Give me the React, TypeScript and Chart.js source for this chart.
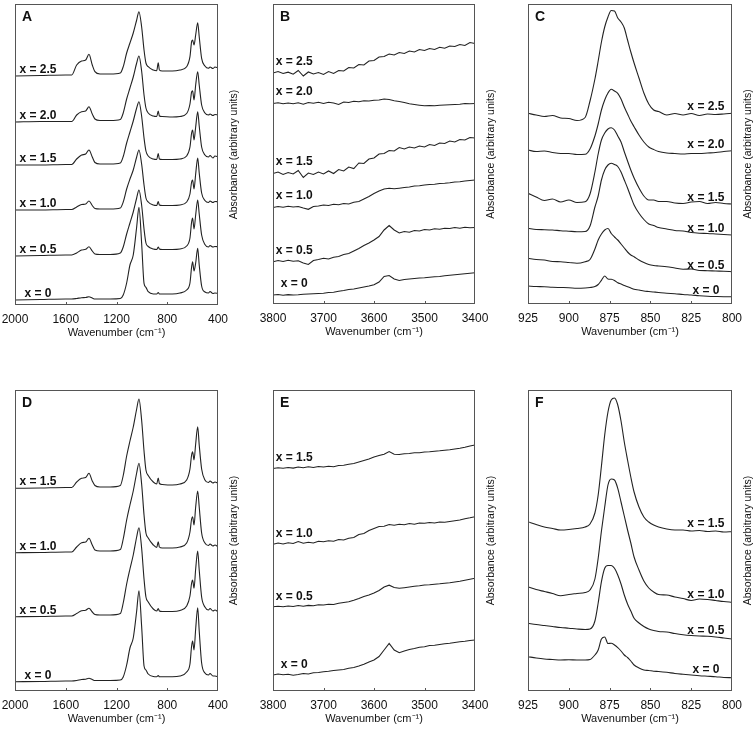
import React, { useEffect, useRef } from "react";
import { Chart, registerables } from "chart.js";

Chart.register(...registerables);

// ---------- Panel A / D (mid-IR, 2000-400 cm-1) ----------
const A_WN = [2000, 1800, 1600, 1553, 1514, 1475, 1443, 1417, 1391, 1370, 1330, 1250, 1170, 1147, 1120, 1094, 1068, 1041, 1023, 1002, 983, 968, 950, 910, 883, 871, 862, 840, 760, 700, 647, 621, 608, 600, 589, 576, 560, 548, 529, 503, 475, 463, 440, 424, 400];
const A_TICKS = [2000, 1600, 1200, 800, 400];
const A_LABELS = ["x = 0", "x = 0.5", "x = 1.0", "x = 1.5", "x = 2.0", "x = 2.5"];
const A_X0 = [5, 5.5, 6, 6, 6.5, 7.3, 7.5, 8.3, 7, 6, 6, 6, 6.5, 10, 22, 40, 50, 78, 97.7, 62, 21.7, 17.7, 13.3, 11, 11, 12.5, 11, 11, 11, 12, 15, 22, 38, 43.3, 34, 42, 56.7, 40, 19, 13, 12, 13.5, 11.5, 12, 11.7];
const A_X05 = [49, 49.5, 50, 50, 52, 55, 55.7, 58.3, 54, 51, 50.5, 50.5, 52, 58, 71, 82, 93, 107, 115, 100, 76, 62, 58.5, 56, 55.5, 58, 56, 55.5, 55.5, 56, 59, 67, 83, 87, 76, 90, 105, 91, 70, 60.5, 58, 59.5, 58, 58.5, 58.3];
const A_X10 = [95, 95, 95.5, 95.5, 98, 100.5, 101, 104, 99.5, 96.5, 96, 96, 97, 103, 116, 126, 135, 148, 155, 141, 120, 107, 103, 100, 99.5, 103.5, 100, 99.5, 99.5, 100, 103, 111, 123, 125, 116, 131, 147, 132, 112, 104.5, 102.5, 104, 102.5, 103.5, 103.3];
const A_X15 = [140, 140, 140.5, 140.5, 146, 150, 151, 155, 148, 142.5, 141, 141, 142, 148.5, 162, 173, 184, 197, 203.3, 189, 167, 154, 149, 146, 145.5, 151.5, 146, 145.5, 145.5, 146, 149, 158, 172, 175, 165, 178, 193.3, 179, 158, 150, 148, 149.5, 147, 149, 148.3];
const A_X20 = [183, 183.5, 183.5, 183.5, 190, 193.3, 194, 198.3, 191, 186, 184.5, 184.5, 185.5, 192, 206, 217, 228, 242, 249, 234, 210, 197, 192, 189, 188.5, 194, 189, 188.5, 188, 188.5, 191.5, 201, 213, 214.3, 205, 220, 233.3, 220, 200, 192, 190, 191, 189.5, 190.5, 190];
const A_X25 = [229, 229.5, 230, 230, 240, 244, 245, 250.7, 240, 233.3, 231, 231, 232, 238.3, 252, 262, 272, 285, 293.3, 278.3, 255, 242, 238.3, 235, 234.3, 242.3, 235, 234, 234, 235, 238.3, 248.3, 263.3, 265, 260, 270, 282.3, 268.3, 246.7, 239, 236.7, 238, 236.5, 238, 237];

const D_LABELS = ["x = 0", "x = 0.5", "x = 1.0", "x = 1.5"];
const D_X0 = [9.3, 9.5, 10, 10, 10.5, 11.5, 11.8, 12.7, 11.5, 10.5, 10.5, 10.5, 11, 14, 26, 43, 53, 80, 100.3, 65, 25, 21, 17, 14.5, 14.3, 15.5, 14.3, 14.3, 14.3, 15, 19, 27, 45, 50, 41, 62, 83.3, 60, 28, 18, 16, 17.5, 15, 15, 14.3];
const D_X05 = [74.3, 74.5, 75, 75, 77.5, 80.3, 80.8, 82.7, 79, 76.5, 76, 76, 77.5, 88, 107, 122, 136, 154, 163.3, 143, 112, 94, 89, 82, 80, 82.5, 80, 79.5, 79.5, 80.5, 85, 95, 108, 111, 102.7, 122, 140, 121, 94, 84, 81, 82.5, 80, 81, 79.3];
const D_X10 = [138.3, 138.5, 139, 139, 144, 148.3, 149, 152.7, 146, 141, 140, 140, 141.5, 152, 171, 186, 200, 218, 227.7, 207, 176, 158, 153, 146, 143.5, 149.3, 144, 143, 143, 144, 148, 159, 172, 174.3, 166, 184, 200, 184, 158, 148, 145.5, 147, 145, 146, 144.3];
const D_X15 = [202.7, 203, 203.5, 203.5, 209, 212.7, 213.5, 217.7, 210, 205.5, 204, 204, 205.5, 215.5, 235, 250, 264, 282, 292, 271, 240, 221, 215.5, 209, 207, 213, 207.5, 206.5, 206, 207, 211, 222, 236, 239.3, 231, 247, 264.3, 246, 222, 211, 208.5, 210, 208, 209, 207.7];

// ---------- Panel B / E (OH region, 3800-3400 cm-1) ----------
const B_WN = [3800, 3790, 3780, 3770, 3760, 3750, 3740, 3730, 3720, 3710, 3700, 3690, 3680, 3670, 3660, 3650, 3640, 3630, 3620, 3610, 3600, 3590, 3580, 3570, 3560, 3550, 3540, 3530, 3520, 3510, 3500, 3490, 3480, 3470, 3460, 3450, 3440, 3430, 3420, 3410, 3400];
const B_TICKS = [3800, 3700, 3600, 3500, 3400];
const B_LABELS = ["x = 0", "x = 0.5", "x = 1.0", "x = 1.5", "x = 2.0", "x = 2.5"];
const B_X0 = [9, 9.5, 8.8, 9.4, 9, 9.2, 9.8, 10, 10.3, 10.5, 10.8, 11.5, 11.8, 12.8, 13.5, 14.5, 15, 16, 17, 18, 19.2, 22, 27.5, 28.5, 25, 23.5, 24.5, 25, 25.5, 26, 26.3, 26.8, 27.2, 27.5, 28.2, 28.8, 29.3, 29.8, 30.3, 30.8, 31.3];
const B_X05 = [42.3, 43.5, 42.5, 43.8, 42.8, 43.3, 41, 39.5, 43.5, 44.5, 45.7, 45, 46.8, 47.5, 49.5, 50.5, 53, 55.5, 58.5, 61, 64, 67.5, 74, 78.5, 74, 71, 72.5, 71.8, 73.5, 73, 74.5, 74, 75.2, 74.8, 75.8, 75.5, 76.5, 75.8, 76.8, 76.2, 76.5];
const B_X10 = [96.5, 97.5, 96.8, 97.8, 97, 97.5, 96, 94.7, 97.5, 98, 99, 98.5, 99.8, 99.2, 100.5, 100, 101.8, 102.5, 105, 107.5, 110.5, 113, 115, 115.8, 115.2, 115.8, 116.5, 117, 118, 118.2, 119, 119.5, 119.8, 120.5, 120.8, 121.3, 122, 122.3, 123, 123.5, 124];
const B_X15 = [130.5, 132, 129.5, 131.5, 130, 133.5, 126.5, 131, 129.5, 132, 130, 133, 130.5, 134.5, 133, 137, 135.5, 141, 140.5, 145, 146, 150, 150.5, 153.5, 153, 156.5, 155, 157, 156, 158, 157, 159.5, 158.5, 161, 160.5, 163, 162, 164.5, 164, 166.5, 166];
const B_X20 = [200.5, 201.2, 200.3, 201, 200.2, 201.3, 199.8, 201.5, 200.8, 201.8, 200.5, 201.8, 201, 199.5, 202, 201.5, 202.8, 202.2, 203.2, 203, 203.8, 204, 205, 204.5, 203.2, 202.5, 201.5, 200.3, 199.5, 198.8, 198.2, 198.5, 198.3, 198.8, 199, 199.2, 199.5, 199.8, 200.5, 200.2, 200.5];
const B_X25 = [231, 232.5, 230.5, 231.8, 229.8, 233.5, 228, 232, 230, 231.5, 229.5, 232.5, 230.5, 233.5, 233, 236.5, 236, 239.5, 239, 243, 243.5, 247, 247.5, 250, 249, 251.5, 250.5, 253, 252, 254.5, 253.5, 255.5, 254.5, 256.8, 255.8, 258, 257.5, 259.5, 258.5, 261.5, 260.5];

const E_LABELS = ["x = 0", "x = 0.5", "x = 1.0", "x = 1.5"];
const E_X0 = [16, 17, 16.3, 16.8, 15.8, 16.5, 17.5, 17, 18.2, 18.5, 19.3, 19.8, 20.5, 21, 21.5, 22.7, 23.5, 25, 26.8, 29, 31, 34.5, 41, 47.5, 41, 38.3, 40, 41.5, 42.5, 43.8, 44.3, 45.5, 45.8, 46.5, 47.2, 47.7, 48.5, 49.3, 49.8, 50.5, 51];
const E_X05 = [84.3, 84.8, 84.2, 85, 84.5, 85.5, 84.8, 85.6, 85.2, 86.2, 86, 86.8, 86.5, 87.8, 88.5, 89.3, 90.8, 92.5, 94.5, 96, 98, 100.5, 104, 105.8, 103.5, 102.7, 103.3, 104, 104.8, 105.2, 106, 106.2, 106.8, 107.2, 107.8, 108.3, 109, 109.8, 110.8, 111.7, 112.7];
const E_X10 = [146.8, 148, 147, 148.3, 147.5, 149.5, 147.8, 148.8, 148, 149.8, 149.3, 150.3, 149.8, 151.5, 151, 152.7, 153.5, 156.5, 157.5, 160.5, 162.5, 164.5, 164.8, 166.5, 165.8, 166.7, 166.3, 167.5, 166.8, 168, 167.7, 168.5, 168, 169, 168.8, 169.5, 170.3, 171, 172.3, 173.2, 174.3];
const E_X15 = [222.5, 223.3, 222.8, 223.5, 222.9, 224, 223.2, 224.2, 223.5, 224.5, 224, 224.8, 224.3, 225.5, 225.8, 226.8, 227.5, 229, 230.5, 232, 234, 235.5, 236.8, 239.5, 236.8, 236.5, 237.3, 237.5, 238.2, 238.3, 239, 239.2, 239.8, 240.2, 240.8, 241.3, 242, 242.8, 243.8, 245, 246];

// ---------- Panel C / F (carbonate band, 925-800 cm-1) ----------
const C_WN = [925, 920, 915, 910, 905, 900, 895, 890, 887, 884, 882, 880, 878, 876, 874, 872, 870, 868, 866, 864, 862, 860, 857, 854, 851, 848, 845, 840, 835, 830, 825, 820, 815, 810, 805, 800];
const C_TICKS = [925, 900, 875, 850, 825, 800];
const C_LABELS = ["x = 0", "x = 0.5", "x = 1.0", "x = 1.5", "x = 2.0", "x = 2.5"];
const C_X0 = [18, 17.5, 17.3, 16.7, 16.5, 16.3, 15.7, 16, 16.5, 17.5, 19.5, 23.7, 28, 25, 24.7, 23.5, 21.3, 20, 18.5, 17.3, 16, 14.7, 14, 13, 12.5, 12, 11.5, 10.7, 10.3, 9.5, 9, 8.3, 7.8, 7.5, 7.3, 7.3];
const C_X05 = [45.7, 44.5, 44, 42.5, 42.3, 41.5, 40.7, 42.3, 44.5, 55, 64, 70, 74, 75.5, 70.5, 67, 64, 60, 56, 52, 49, 47.3, 44, 41.5, 39.5, 38.5, 38, 37.3, 36, 34.7, 35, 33.5, 33.3, 33, 32.8, 32.3];
const C_X10 = [75.7, 74.5, 74.3, 74, 73.3, 72.8, 72.3, 72.5, 78, 97, 108, 124, 134, 139, 140.7, 139.5, 137.5, 132, 124, 116, 107.3, 99, 90.7, 84.5, 80, 78.5, 76.5, 75, 73.5, 73, 71.5, 70.8, 70.5, 70, 69.5, 69];
const C_X15 = [110.7, 107, 103.5, 105, 102, 104, 101.5, 102.3, 110, 132, 150, 164, 171, 175, 176.3, 174, 168, 162, 152.3, 143, 134, 126, 116, 108, 104, 104, 102.5, 102.5, 101, 100.5, 102, 102.5, 100.5, 101.5, 100.5, 100];
const C_X20 = [154, 152.5, 153, 151.5, 150.5, 150.5, 149.5, 149.7, 155, 168, 180, 194, 204, 211, 214.7, 213, 210.7, 205, 197, 190, 183, 177.3, 169, 162, 157, 154.5, 152.5, 151, 150.5, 150, 150.5, 150.5, 151, 151.5, 152.5, 153.3];
const C_X25 = [190.7, 189, 187.5, 188.5, 186, 185.5, 183.5, 186.5, 203, 225, 243, 262, 277, 287, 293.5, 293, 286, 282, 276, 264, 252, 241, 226, 211, 200, 194, 192.5, 189, 190.5, 189, 190.5, 188.5, 190, 189.5, 190, 190.7];

const F_LABELS = ["x = 0", "x = 0.5", "x = 1.0", "x = 1.5"];
const F_X0 = [34.3, 33, 32, 31.5, 31, 31.2, 31, 31, 31.5, 36, 41, 52, 54, 47.5, 47.7, 46, 43.3, 40, 36, 33.5, 30, 26, 23, 21, 20.5, 19.8, 19.5, 18.7, 17.5, 16.7, 16, 15.3, 14.8, 14.3, 13.5, 13.3];
const F_X05 = [67.7, 66.5, 65.5, 64.5, 63.5, 62.8, 62, 61.5, 62, 70, 88, 109.3, 122.7, 125.5, 125.5, 122.7, 116, 107, 96, 87, 80, 72.7, 68, 64.5, 62, 60.5, 59.5, 59, 57.5, 56.3, 55.5, 55, 54.7, 54, 53, 52];
const F_X10 = [104.3, 101.5, 99.5, 97.5, 95.3, 96.5, 97.5, 98.5, 101, 112, 132.7, 160, 184, 206, 212, 211, 202.7, 189, 175, 161, 148, 134, 121, 110, 103, 99, 96.5, 96, 94, 92.5, 90.5, 92, 91.5, 90.5, 89.5, 88.7];
const F_X15 = [169.3, 166.5, 164, 162.5, 161, 161.5, 162.5, 164, 167, 178, 196, 225, 256, 279, 291, 293, 286, 270, 249, 231, 214, 199, 184, 174, 169, 166, 164, 162, 161, 161, 160, 160.5, 159.5, 160, 159, 159.3];

const X_TITLE = "Wavenumber (cm\u207B\u00B9)";
const Y_TITLE = "Absorbance (arbitrary units)";

// ---------- layout / style configuration ----------
const FONT = "'Liberation Sans', Arial, Helvetica, sans-serif";
const PAD_L = 15;
const PAD_R = 30;
const PAD_T = 4;
const PAD_B = 36;

type PanelCfg = {
  letter: string;
  left: number;
  top: number;
  w: number;
  h: number;
  xMin: number;
  xMax: number;
  ticks: number[];
  wn: number[];
  series: number[][];
  labels: string[];
  labelSide: "left" | "right";
  labelX: number;
  labelOffset: number;
  smooth: boolean;
};

const PANELS: PanelCfg[] = [
  { letter: "A", left: 15, top: 4, w: 203, h: 301, xMin: 400, xMax: 2000, ticks: A_TICKS, wn: A_WN, series: [A_X0, A_X05, A_X10, A_X15, A_X20, A_X25], labels: A_LABELS, labelSide: "left", labelX: 1819, labelOffset: 6, smooth: true },
  { letter: "B", left: 273, top: 4, w: 202, h: 300, xMin: 3400, xMax: 3800, ticks: B_TICKS, wn: B_WN, series: [B_X0, B_X05, B_X10, B_X15, B_X20, B_X25], labels: B_LABELS, labelSide: "left", labelX: 3758, labelOffset: 11.5, smooth: false },
  { letter: "C", left: 528, top: 4, w: 204, h: 300, xMin: 800, xMax: 925, ticks: C_TICKS, wn: C_WN, series: [C_X0, C_X05, C_X10, C_X15, C_X20, C_X25], labels: C_LABELS, labelSide: "right", labelX: 816, labelOffset: 6.5, smooth: true },
  { letter: "D", left: 15, top: 390, w: 203, h: 301, xMin: 400, xMax: 2000, ticks: A_TICKS, wn: A_WN, series: [D_X0, D_X05, D_X10, D_X15], labels: D_LABELS, labelSide: "left", labelX: 1819, labelOffset: 6.3, smooth: true },
  { letter: "E", left: 273, top: 390, w: 202, h: 301, xMin: 3400, xMax: 3800, ticks: B_TICKS, wn: B_WN, series: [E_X0, E_X05, E_X10, E_X15], labels: E_LABELS, labelSide: "left", labelX: 3758, labelOffset: 10.5, smooth: false },
  { letter: "F", left: 528, top: 390, w: 204, h: 301, xMin: 800, xMax: 925, ticks: C_TICKS, wn: C_WN, series: [F_X0, F_X05, F_X10, F_X15], labels: F_LABELS, labelSide: "right", labelX: 816, labelOffset: 8, smooth: true },
];

function makeDecorPlugin(cfg: PanelCfg) {
  return {
    id: "decor" + cfg.letter,
    afterDraw(chart: any) {
      const { ctx, chartArea } = chart;
      const l = Math.round(chartArea.left);
      const r = Math.round(chartArea.right);
      const t = Math.round(chartArea.top);
      const b = Math.round(chartArea.bottom);
      ctx.save();
      // frame
      ctx.strokeStyle = "#555";
      ctx.lineWidth = 1;
      ctx.strokeRect(l + 0.5, t + 0.5, r - l - 1, b - t - 1);
      // inward tick marks
      const xs = chart.scales.x;
      ctx.beginPath();
      for (const tk of xs.ticks) {
        const px = Math.round(xs.getPixelForValue(tk.value)) + 0.5;
        if (px <= l + 2 || px >= r - 2) continue;
        ctx.moveTo(px, b);
        ctx.lineTo(px, b - 3);
      }
      ctx.stroke();
      // panel letter
      ctx.fillStyle = "#111";
      ctx.font = `bold 14px ${FONT}`;
      ctx.textAlign = "left";
      ctx.textBaseline = "top";
      ctx.fillText(cfg.letter, l + 7, t + 6);
      // series labels
      ctx.font = `bold 12px ${FONT}`;
      ctx.textAlign = "center";
      ctx.textBaseline = "middle";
      const lx = xs.getPixelForValue(cfg.labelX);
      chart.data.datasets.forEach((ds: any, i: number) => {
        const meta = chart.getDatasetMeta(i);
        const pts = meta.data;
        const p = cfg.labelSide === "left" ? pts[0] : pts[pts.length - 1];
        ctx.fillText(ds.label, lx, p.y - cfg.labelOffset);
      });
      // y-axis title on the right
      ctx.font = `10.5px ${FONT}`;
      ctx.translate(r + 16, (t + b) / 2);
      ctx.rotate(-Math.PI / 2);
      ctx.textAlign = "center";
      ctx.textBaseline = "middle";
      ctx.fillText(Y_TITLE, 0, 0);
      ctx.restore();
    },
  };
}

function Panel({ cfg }: { cfg: PanelCfg }) {
  const ref = useRef<HTMLCanvasElement>(null);
  const width = PAD_L + cfg.w + PAD_R;
  const height = PAD_T + cfg.h + PAD_B;

  useEffect(() => {
    if (!ref.current) return;
    const chart = new Chart(ref.current, {
      type: "line",
      data: {
        datasets: cfg.series.map((vals, i) => ({
          label: cfg.labels[i],
          data: cfg.wn.map((x, j) => ({ x, y: vals[j] })),
          borderColor: "#222",
          borderWidth: 1.1,
          pointRadius: 0,
          fill: false,
          tension: 0,
          cubicInterpolationMode: cfg.smooth ? "monotone" : "default",
        })),
      },
      options: {
        responsive: false,
        maintainAspectRatio: false,
        animation: false,
        events: [],
        layout: { padding: { left: PAD_L, right: PAD_R, top: PAD_T, bottom: 0 } },
        plugins: { legend: { display: false }, tooltip: { enabled: false } },
        scales: {
          x: {
            type: "linear",
            reverse: true,
            min: cfg.xMin,
            max: cfg.xMax,
            grid: { display: false, drawTicks: false },
            border: { display: false },
            afterBuildTicks: (s: any) => {
              s.ticks = cfg.ticks.map((v) => ({ value: v }));
            },
            afterFit: (s: any) => {
              s.height = PAD_B;
              s.paddingLeft = 0;
              s.paddingRight = 0;
            },
            ticks: {
              padding: 7,
              color: "#111",
              maxRotation: 0,
              autoSkip: false,
              font: { family: FONT, size: 12 },
              callback: (v: any) => String(v),
            },
            title: {
              display: true,
              text: X_TITLE,
              color: "#111",
              font: { family: FONT, size: 11 },
              padding: { top: 0, bottom: 1 },
            },
          },
          y: { type: "linear", display: false, min: 0, max: cfg.h },
        },
      } as any,
      plugins: [makeDecorPlugin(cfg)],
    });
    return () => chart.destroy();
  }, [cfg]);

  return (
    <canvas
      ref={ref}
      width={width}
      height={height}
      style={{
        position: "absolute",
        left: cfg.left - PAD_L,
        top: cfg.top - PAD_T,
        width,
        height,
      }}
    />
  );
}

export default function App() {
  return (
    <div
      style={{
        position: "absolute",
        left: 0,
        top: 0,
        width: 756,
        height: 729,
        overflow: "hidden",
        background: "#fff",
      }}
    >
      {PANELS.map((p) => (
        <Panel key={p.letter} cfg={p} />
      ))}
    </div>
  );
}
